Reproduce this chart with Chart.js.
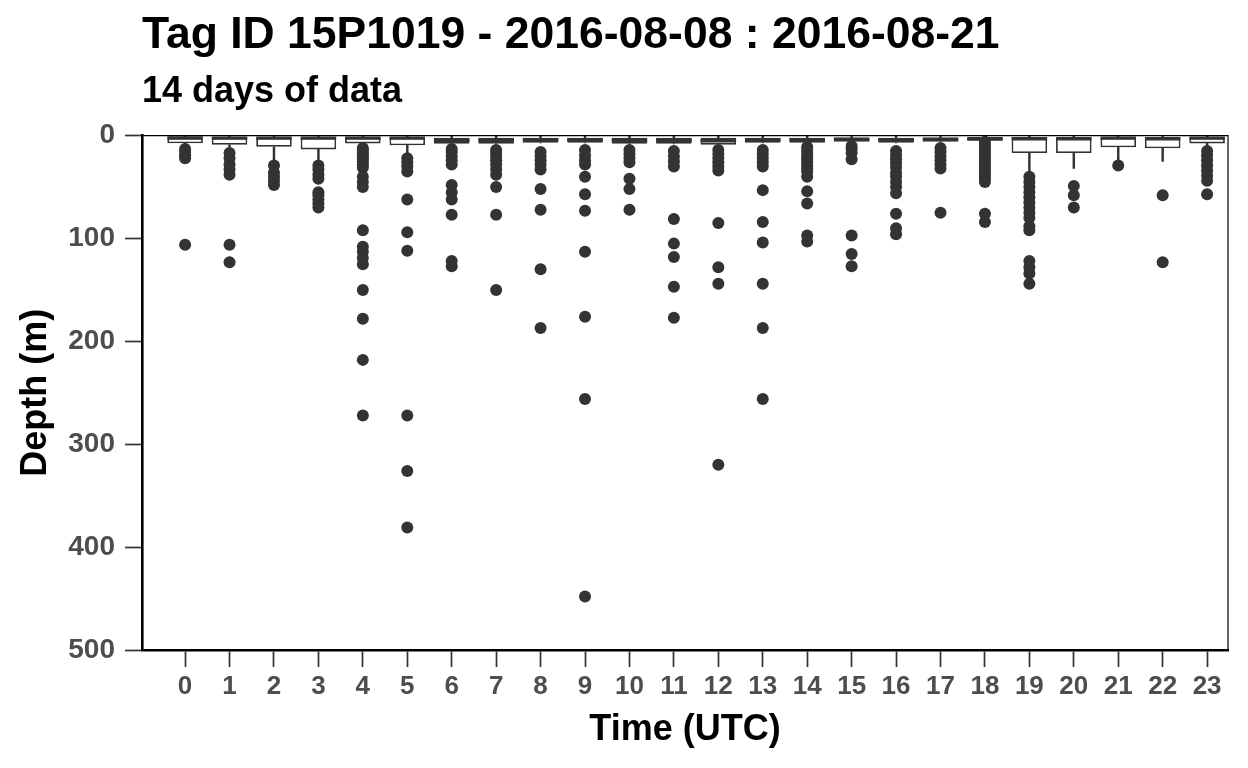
<!DOCTYPE html>
<html>
<head>
<meta charset="utf-8">
<title>Tag ID 15P1019 depth by hour</title>
<script src="https://cdn.jsdelivr.net/npm/chart.js@4"></script>
<style>
  html, body { margin: 0; padding: 0; background: #fff; }
  #wrap { width: 1248px; height: 768px; }
</style>
</head>
<body>
<div id="wrap"><canvas id="depthChart"></canvas></div>
<script>
// hours of the day (UTC)
const hours = [0, 1, 2, 3, 4, 5, 6, 7, 8, 9, 10, 11, 12, 13, 14, 15, 16, 17, 18, 19, 20, 21, 22, 23];
const yTicks = [0, 100, 200, 300, 400, 500];

// box statistics, depth in m
const whiskerLow = [0, 0, 0, 0, 0, 0, 0, 0, 0, 0, 0, 0, 0, 0, 0, 0, 0, 0, 0, 0, 0, 0, 0, 0];
const q1 = [2, 2, 2, 2, 2, 2, 2, 2, 2, 2, 2, 2, 2, 2, 2, 2, 2, 2, 2, 2, 2, 2, 2, 2];
const median = [2.3, 2.5, 2.5, 2.5, 2.5, 2.5, 4.5, 4.5, 4, 4, 4.5, 4.5, 5, 4, 4, 3.5, 4, 3.5, 3, 3, 3, 2.5, 3, 2.5];
const q3 = [7.5, 9, 10.8, 13.4, 7.6, 9.5, 8, 8, 7, 7, 8, 8, 9, 7, 7, 6, 7, 6, 5, 17, 17, 11.4, 12.4, 7.6];
const whiskerHigh = [11, 13, 26, 24, 7.6, 20, 8, 8, 7, 7, 8, 8, 12, 7, 7, 6, 7, 6, 5, 37, 32, 24.5, 25, 11.6];

// outliers per hour
const outliers = [
  [13, 16, 19, 22, 106],
  [17, 22, 28, 33, 38, 106, 123],
  [29, 36, 40, 44, 48],
  [29, 33, 38, 42, 55, 58, 62, 66, 70],
  [12, 14, 16, 18, 20, 22, 25, 28, 31, 40, 45, 50, 92, 108, 113, 119, 125, 150, 178, 218, 272],
  [22, 26, 30, 35, 62, 94, 112, 272, 326, 381],
  [13, 16, 20, 24, 28, 48, 55, 62, 77, 122, 127],
  [14, 17, 20, 24, 28, 33, 38, 50, 77, 150],
  [16, 20, 24, 28, 33, 52, 72, 130, 187],
  [14, 19, 24, 28, 40, 57, 73, 113, 176, 256, 448],
  [14, 18, 22, 26, 42, 52, 72],
  [15, 20, 25, 30, 81, 105, 118, 147, 177],
  [14, 18, 22, 26, 30, 34, 85, 128, 144, 320],
  [14, 18, 22, 26, 30, 53, 84, 104, 144, 187, 256],
  [11, 14, 17, 20, 23, 26, 29, 32, 35, 40, 54, 66, 97, 103],
  [10, 13, 17, 23, 97, 115, 127],
  [15, 19, 23, 27, 31, 36, 40, 45, 50, 56, 76, 90, 96],
  [12, 16, 20, 24, 28, 32, 75],
  [6, 9, 12, 15, 18, 21, 24, 27, 30, 33, 36, 39, 42, 45, 76, 84],
  [40, 45, 50, 55, 60, 65, 70, 75, 80, 88, 92, 122, 128, 134, 144],
  [49, 58, 70],
  [29],
  [58, 123],
  [15, 19, 24, 29, 34, 39, 44, 57]
];

const dark = '#333333';
const tickGray = '#4d4d4d';
Chart.defaults.font.family = '"Liberation Sans", Arial, Helvetica, sans-serif';
Chart.defaults.font.weight = 'bold';

// median line across each box, plus the thin panel frame
const boxExtras = {
  id: 'boxExtras',
  afterDatasetsDraw(chart) {
    const ctx = chart.ctx;
    const y = chart.scales.y;
    const meta = chart.getDatasetMeta(1);
    ctx.save();
    ctx.strokeStyle = dark;
    ctx.lineWidth = 3.4;
    meta.data.forEach((bar, i) => {
      const py = y.getPixelForValue(median[i]);
      ctx.beginPath();
      ctx.moveTo(bar.x - bar.width / 2, py);
      ctx.lineTo(bar.x + bar.width / 2, py);
      ctx.stroke();
    });
    ctx.restore();
  },
  afterDraw(chart) {
    const { ctx, chartArea: a } = chart;
    ctx.save();
    ctx.strokeStyle = '#000';
    ctx.lineWidth = 1.2;
    ctx.beginPath();
    ctx.moveTo(a.left, a.top);
    ctx.lineTo(a.right, a.top);
    ctx.lineTo(a.right, a.bottom);
    ctx.stroke();
    ctx.restore();
  }
};

const points = [];
outliers.forEach((list, i) => list.forEach(v => points.push({ x: hours[i], y: v })));

new Chart(document.getElementById('depthChart'), {
  type: 'bar',
  data: {
    datasets: [
      {
        type: 'scatter',
        data: points,
        backgroundColor: dark,
        borderWidth: 0,
        pointRadius: 6,
        pointHoverRadius: 6,
        order: 0
      },
      {
        data: hours.map((h, i) => ({ x: h, y: [q1[i], q3[i]] })),
        backgroundColor: '#ffffff',
        borderColor: dark,
        borderWidth: 1.8,
        borderSkipped: false,
        grouped: false,
        barPercentage: 0.8,
        categoryPercentage: 1.0,
        order: 1
      },
      {
        data: hours.map((h, i) => ({ x: h, y: [q3[i], whiskerHigh[i]] })),
        backgroundColor: dark,
        borderWidth: 0,
        grouped: false,
        barThickness: 1.8,
        order: 2
      },
      {
        data: hours.map((h, i) => ({ x: h, y: [whiskerLow[i], q1[i]] })),
        backgroundColor: dark,
        borderWidth: 0,
        grouped: false,
        barThickness: 1.8,
        order: 3
      }
    ]
  },
  options: {
    responsive: true,
    maintainAspectRatio: false,
    animation: false,
    layout: { padding: { left: 0, right: 20, top: 8, bottom: 0 } },
    plugins: {
      legend: { display: false },
      tooltip: { enabled: false },
      title: {
        display: true,
        text: 'Tag ID 15P1019 - 2016-08-08 : 2016-08-21',
        align: 'start',
        fullSize: false,
        color: '#000',
        font: { size: 44.5, weight: 'bold' },
        padding: { top: 1, bottom: 4 }
      },
      subtitle: {
        display: true,
        text: '14 days of data',
        align: 'start',
        fullSize: false,
        color: '#000',
        font: { size: 36, weight: 'bold' },
        padding: { top: 4, bottom: 22 }
      }
    },
    scales: {
      x: {
        type: 'linear',
        offset: false,
        min: -0.97,
        max: 23.47,
        afterBuildTicks: s => { s.ticks = hours.map(v => ({ value: v })); },
        afterFit: s => { s.height = 118; },
        grid: { display: true, offset: false, drawOnChartArea: false, drawTicks: true, tickLength: 17, tickWidth: 1.7, color: dark },
        border: { display: true, color: '#000', width: 2.6 },
        ticks: { color: tickGray, font: { size: 26, weight: 'bold' }, padding: 4, autoSkip: false, maxRotation: 0 },
        title: { display: true, text: 'Time (UTC)', color: '#000', font: { size: 36, weight: 'bold' }, padding: { top: 0, bottom: 16 } }
      },
      y: {
        type: 'linear',
        reverse: true,
        min: 0,
        max: 500,
        afterBuildTicks: s => { s.ticks = yTicks.map(v => ({ value: v })); },
        afterFit: s => { s.width = 142; },
        grid: { display: true, drawOnChartArea: false, drawTicks: true, tickLength: 17, tickWidth: 1.7, color: dark },
        border: { display: true, color: '#000', width: 2.6 },
        ticks: { color: tickGray, font: { size: 28, weight: 'bold' }, padding: 10 },
        title: { display: true, text: 'Depth (m)', color: '#000', font: { size: 36, weight: 'bold' }, padding: { top: 14, bottom: 0 } }
      }
    }
  },
  plugins: [boxExtras]
});
</script>
</body>
</html>
